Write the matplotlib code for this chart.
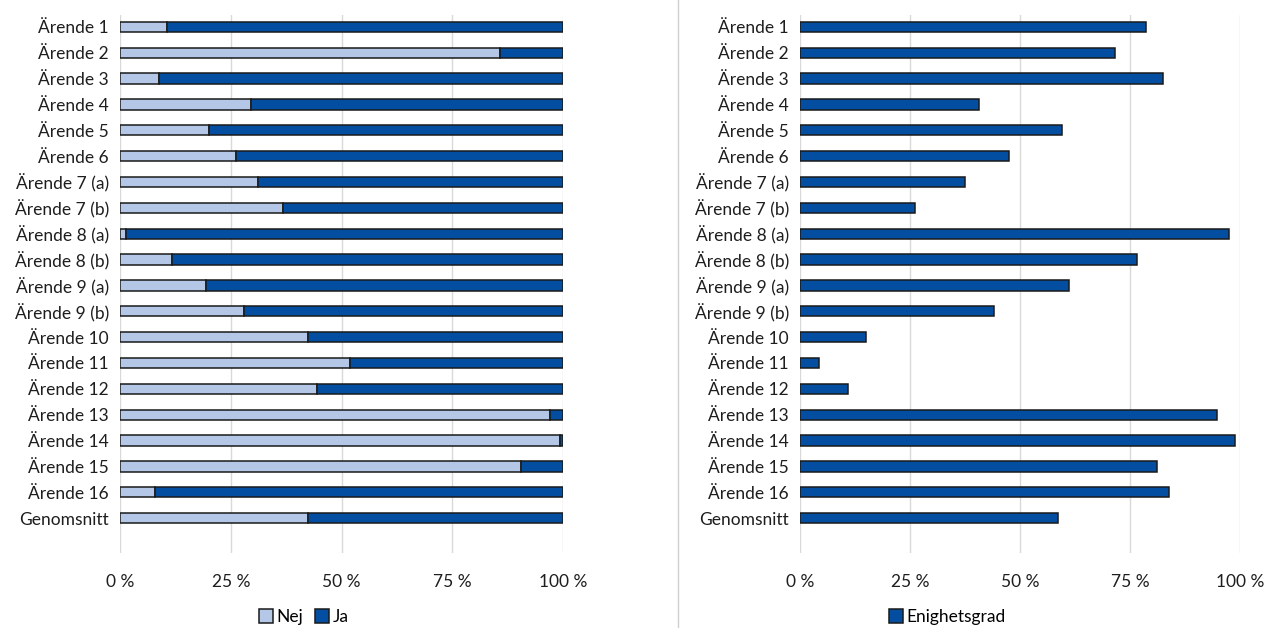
import numpy as np
import matplotlib.pyplot as plt
from matplotlib.lines import Line2D
from matplotlib.ticker import FuncFormatter

plt.rcParams['font.family'] = ['Lato', 'DejaVu Sans']
plt.rcParams['font.size'] = 12.5

arenden = ["Ärende 1", "Ärende 2", "Ärende 3", "Ärende 4", "Ärende 5", "Ärende 6",
           "Ärende 7 (a)", "Ärende 7 (b)", "Ärende 8 (a)", "Ärende 8 (b)",
           "Ärende 9 (a)", "Ärende 9 (b)", "Ärende 10", "Ärende 11", "Ärende 12",
           "Ärende 13", "Ärende 14", "Ärende 15", "Ärende 16", "Genomsnitt"]

# andel nej-röster per ärende (procent)
nej = [10.7, 85.7, 8.7, 29.6, 20.2, 26.2, 31.2, 36.8, 1.3, 11.7,
       19.4, 27.9, 42.4, 51.9, 44.5, 97.1, 99.3, 90.5, 7.9, 42.4]
ja = [100 - v for v in nej]

enighetsgrad = [78.6, 71.7, 82.6, 40.7, 59.5, 47.6, 37.6, 26.2, 97.4, 76.5,
                61.2, 44.0, 15.0, 4.3, 11.0, 94.8, 98.8, 81.2, 83.9, 58.6]

ljusbla = "#B4C7E7"
morkbla = "#034EA0"
kant = "#1a1a1a"

W, H = 1268, 628
fig = plt.figure(figsize=(W / 100, H / 100), dpi=100)

def px_axes(x0, x1, y0, y1):
    return fig.add_axes([x0 / W, 1 - y1 / H, (x1 - x0) / W, (y1 - y0) / H])

pct = FuncFormatter(lambda v, p: f"{v:.0f} %")
y = np.arange(len(arenden))

def style(ax):
    ax.set_xlim(0, 100)
    ax.set_ylim(len(arenden) - 1 + 1.35, -0.46)
    ax.set_xticks([0, 25, 50, 75, 100])
    ax.xaxis.set_major_formatter(pct)
    ax.set_yticks(y)
    ax.set_yticklabels(arenden)
    ax.grid(axis="x", color="#d9d9d9", linewidth=1)
    ax.set_axisbelow(True)
    for s in ax.spines.values():
        s.set_visible(False)
    ax.tick_params(length=0, colors="#1e1e1e")
    ax.tick_params(axis="x", pad=15)
    ax.tick_params(axis="y", pad=8)

# vänster: nej/ja staplat
ax1 = px_axes(120, 563, 15, 553)
ax1.barh(y, nej, height=0.4, color=ljusbla, edgecolor=kant, linewidth=1.1)
ax1.barh(y, ja, left=nej, height=0.4, color=morkbla, edgecolor=kant, linewidth=1.1)
style(ax1)

h1 = [Line2D([], [], marker="s", linestyle="", markersize=10.5, markerfacecolor=c,
             markeredgecolor=kant, markeredgewidth=1.1) for c in (ljusbla, morkbla)]
fig.legend(h1, ["Nej", "Ja"], loc="center", bbox_to_anchor=(302 / W, 1 - 617 / H),
           ncol=2, frameon=False, handletextpad=0.0, handlelength=1.2,
           columnspacing=0.5, borderaxespad=0, fontsize=12.5)

# höger: enighetsgrad
ax2 = px_axes(800, 1240, 15, 553)
ax2.barh(y, enighetsgrad, height=0.4, color=morkbla, edgecolor=kant, linewidth=1.1)
style(ax2)

h2 = [Line2D([], [], marker="s", linestyle="", markersize=10.5, markerfacecolor=morkbla,
             markeredgecolor=kant, markeredgewidth=1.1)]
fig.legend(h2, ["Enighetsgrad"], loc="center", bbox_to_anchor=(946 / W, 1 - 617 / H),
           frameon=False, handletextpad=0.0, handlelength=1.2, borderaxespad=0,
           fontsize=12.5)

# skiljelinje mellan diagrammen
fig.add_artist(Line2D([678 / W, 678 / W], [0, 1], color="#d0d0d0", linewidth=1))

fig.savefig("out.png", dpi=100)
